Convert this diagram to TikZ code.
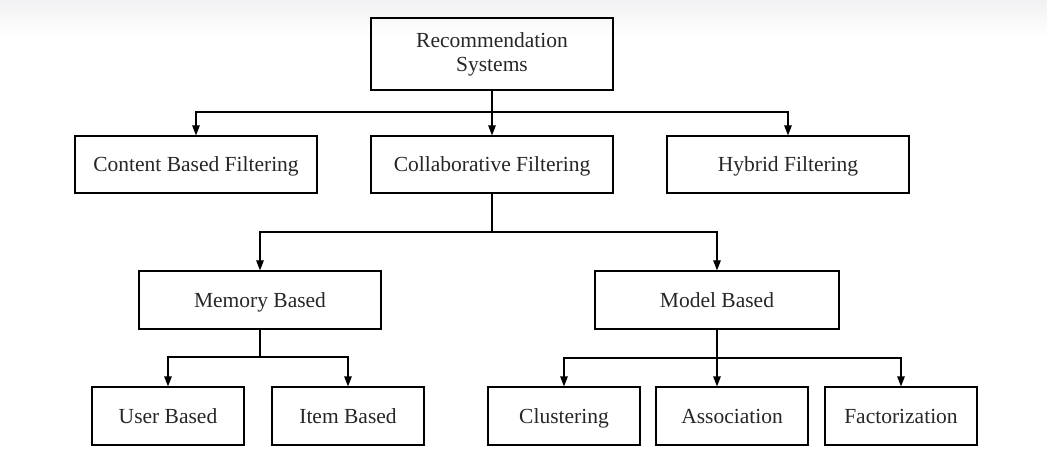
\documentclass[tikz,border=0pt]{standalone}
\usepackage{fontspec}
\setmainfont{Liberation Serif}
\usetikzlibrary{arrows.meta}
\definecolor{txtgray}{HTML}{262626}
\definecolor{topgray}{HTML}{F1F1F3}
\tikzset{
  box/.style={draw=black,line width=1.2pt,text=txtgray,font=\fontsize{21.5}{24}\selectfont,
    inner sep=0pt,align=center},
  onebox/.style={box,text height=14.5pt,text depth=0pt},
  arr/.style={line width=1.2pt,-{Triangle[width=7.5pt,length=10pt]}},
  ln/.style={line width=1.2pt}
}
\begin{document}
\begin{tikzpicture}[x=1pt,y=-1pt]
      \useasboundingbox (0,0) rectangle (1047,457) ;
      \shade[top color=topgray,bottom color=white] (0,0) rectangle (1047,36) ;
      % top level
      \node[box,minimum width=242pt,minimum height=72pt] (rec) at (492,54) {Recommendation\\Systems} ;
      \node[onebox,minimum width=242pt,minimum height=57pt] (cbf) at (196,164.5) {Content Based Filtering} ;
      \node[onebox,minimum width=242pt,minimum height=57pt] (cf) at (492,164.5) {Collaborative Filtering} ;
      \node[onebox,minimum width=242pt,minimum height=57pt] (hf) at (788,164.5) {Hybrid Filtering} ;
      \node[onebox,minimum width=242pt,minimum height=58pt] (mem) at (260,300) {Memory Based} ;
      \node[onebox,minimum width=244pt,minimum height=58pt] (mod) at (717,300) {Model Based} ;
      \node[onebox,minimum width=152pt,minimum height=58pt] (ub) at (168,416) {User Based} ;
      \node[onebox,minimum width=152pt,minimum height=58pt] (ib) at (348,416) {Item Based} ;
      \node[onebox,minimum width=152pt,minimum height=58pt] (cl) at (564,416) {Clustering} ;
      \node[onebox,minimum width=152pt,minimum height=58pt] (as) at (732,416) {Association} ;
      \node[onebox,minimum width=152pt,minimum height=58pt] (fa) at (901,416) {Factorization} ;
      % junctions
      \coordinate (j1) at (492,112) ;
      \coordinate (j2) at (492,232) ;
      \coordinate (j3) at (260,357) ;
      \coordinate (j4) at (717,358) ;
      \draw[ln] (rec.south) -- (j1) ;
      \draw[arr] (j1) -| (cbf.north) ;
      \draw[arr] (j1) -- (cf.north) ;
      \draw[arr] (j1) -| (hf.north) ;
      \draw[ln] (cf.south) -- (j2) ;
      \draw[arr] (j2) -| (mem.north) ;
      \draw[arr] (j2) -| (mod.north) ;
      \draw[ln] (mem.south) -- (j3) ;
      \draw[arr] (j3) -| (ub.north) ;
      \draw[arr] (j3) -| (ib.north) ;
      \draw[ln] (mod.south) -- (j4) ;
      \draw[arr] (j4) -| (cl.north) ;
      \draw[arr] (j4) -- (j4 |- as.north) ;
      \draw[arr] (j4) -| (fa.north) ;
    \end{tikzpicture}
\end{document}
